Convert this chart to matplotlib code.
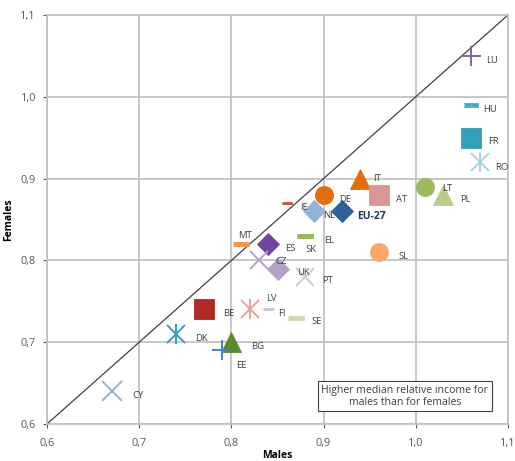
import matplotlib
matplotlib.use("Agg")
import matplotlib.pyplot as plt
import numpy as np

countries = ["LU", "HU", "FR", "RO", "IT", "DE", "AT", "LT", "PL", "IE", "NL", "EU-27",
             "MT", "ES", "EL", "SK", "CZ", "UK", "PT", "SL", "BE", "LV", "FI", "SE",
             "DK", "BG", "EE", "CY"]
males = [1.06, 1.06, 1.06, 1.07, 0.94, 0.90, 0.96, 1.01, 1.03, 0.86, 0.89, 0.92,
         0.81, 0.84, 0.88, 0.88, 0.83, 0.85, 0.88, 0.96, 0.77, 0.82, 0.84, 0.87,
         0.74, 0.80, 0.79, 0.67]
females = [1.05, 0.99, 0.95, 0.92, 0.90, 0.88, 0.88, 0.89, 0.88, 0.87, 0.86, 0.86,
           0.82, 0.82, 0.83, 0.83, 0.80, 0.79, 0.78, 0.81, 0.74, 0.74, 0.74, 0.73,
           0.71, 0.70, 0.69, 0.64]
x_ticks = [0.6, 0.7, 0.8, 0.9, 1.0, 1.1]
y_ticks = [0.6, 0.7, 0.8, 0.9, 1.0, 1.1]
note_text = "Higher median relative income for\nmales than for females"

dash = [(-1, -0.22), (1, -0.22), (1, 0.22), (-1, 0.22)]
styles = {
    "LU": ("+", "#8064A2", 14),
    "HU": (dash, "#4BACC6", 10),
    "FR": ("s", "#31A0B8", 14),
    "RO": ("*x", "#A9D4E2", 13),
    "IT": ("^", "#E46C0A", 15),
    "DE": ("o", "#E46C0A", 13),
    "AT": ("s", "#D99694", 14),
    "LT": ("o", "#9BBB59", 13),
    "PL": ("^", "#B7CC8A", 14),
    "IE": (dash, "#C0504D", 7),
    "NL": ("D", "#95B3D7", 11),
    "EU-27": ("D", "#2F5F98", 11),
    "MT": (dash, "#F79646", 12),
    "ES": ("D", "#7044A0", 11),
    "EL": (dash, "#9BBB59", 12),
    "SK": (dash, "#9BBB59", 12),
    "CZ": ("x", "#B3A2C7", 13),
    "UK": ("D", "#B3A2C7", 11),
    "PT": ("x", "#C8CDD6", 13),
    "SL": ("o", "#F9A86A", 13),
    "BE": ("s", "#B02A26", 14),
    "LV": ("*x", "#E6A0A0", 13),
    "FI": (dash, "#CCC1DA", 7),
    "SE": (dash, "#C9DBA8", 12),
    "DK": ("*x", "#31A0B8", 13),
    "BG": ("^", "#5E8A2E", 15),
    "EE": ("+", "#4F81BD", 14),
    "CY": ("x", "#95B3D7", 14),
}
offsets = {
    "LU": (11, -3), "HU": (9, -3), "FR": (12, -3), "RO": (11, -4), "IT": (9, 0),
    "DE": (11, -3), "AT": (12, -3), "LT": (12, -1), "PL": (12, -3), "IE": (10, -3),
    "NL": (6, -3), "EU-27": (11, -4), "MT": (-2, 6), "ES": (12, -3), "EL": (14, -3),
    "SK": (0, -10), "CZ": (12, -1), "UK": (14, -3), "PT": (12, -3), "SL": (14, -3),
    "BE": (14, -3), "LV": (12, 8), "FI": (7, -3), "SE": (11, -3), "DK": (14, -3),
    "BG": (14, -3), "EE": (10, -11), "CY": (15, -3),
}

plt.rcParams['font.family'] = ['Open Sans', 'DejaVu Sans']
fig = plt.figure(figsize=(5.15, 4.61), dpi=100)
ax = fig.add_axes([0.0913, 0.0803, 0.8951, 0.8872])

ax.plot([0.6, 1.1], [0.6, 1.1], color="#404040", lw=0.9, zorder=2)

for c, mx, fy in zip(countries, males, females):
    m, col, ms = styles[c]
    if m == "*x":
        ax.plot(mx, fy, marker="x", ms=ms, mew=1.4, color=col, ls="none", zorder=3)
        ax.plot(mx, fy, marker="|", ms=ms * 1.1, mew=1.4, color=col, ls="none", zorder=3)
    elif m in ("+", "x"):
        ax.plot(mx, fy, marker=m, ms=ms, mew=1.4, color=col, ls="none", zorder=3)
    else:
        ax.plot(mx, fy, marker=m, ms=ms, color=col, mec=col, mew=0.6,
                ls="none", zorder=3)
    dx, dy = offsets[c]
    ax.annotate(c, (mx, fy), xytext=(dx, dy), textcoords="offset points",
                fontsize=6.8 if c != "EU-27" else 7.5,
                fontweight="bold" if c == "EU-27" else "normal",
                color="#404040" if c != "EU-27" else "#1F3864",
                ha="left", va="center", zorder=4)

ax.set_xlim(0.6, 1.1)
ax.set_ylim(0.6, 1.1)
ax.set_xticks(x_ticks)
ax.set_yticks(y_ticks)
ax.set_xticklabels([f"{v:.1f}".replace(".", ",") for v in x_ticks])
ax.set_yticklabels([f"{v:.1f}".replace(".", ",") for v in y_ticks])
ax.tick_params(labelsize=7.8, colors="#595959", length=3, width=0.8)
ax.tick_params(axis="x", pad=7)
ax.tick_params(axis="y", pad=5)
ax.grid(True, color="#BFBFBF", lw=1.2)
ax.set_axisbelow(True)
for s in ax.spines.values():
    s.set_color("#BFBFBF")
    s.set_linewidth(1.2)

ax.set_xlabel("Males", fontsize=7.5, fontweight="bold")
ax.set_ylabel("Females", fontsize=7.5, fontweight="bold")
ax.xaxis.set_label_coords(0.5, -0.063)
ax.yaxis.set_label_coords(-0.072, 0.5)

ax.text(0.988, 0.634, note_text,
        fontsize=7.6, color="#404040", ha="center", va="center", linespacing=1.15,
        bbox=dict(boxstyle="square,pad=0.35", fc="white", ec="#404040", lw=0.8),
        zorder=5)

fig.savefig("out.png", dpi=100)
